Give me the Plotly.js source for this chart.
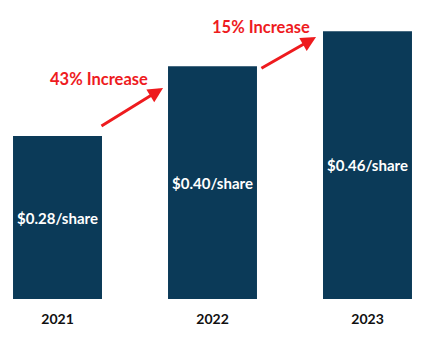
<!DOCTYPE html>
<html>
<head>
<meta charset="utf-8">
<script src="https://cdn.plot.ly/plotly-3.0.1.min.js"></script>
<style>html,body{margin:0;padding:0;background:#fff;}#chart{width:425px;height:339px;}</style>
</head>
<body>
<div id="chart"></div>
<script>
const years = ['2021', '2022', '2023'];
const dividends = [0.28, 0.40, 0.46];
const barLabels = ['$0.28/share', '$0.40/share', '$0.46/share'];
const increaseLabels = ['43% Increase', '15% Increase'];

const FONT = 'Lato, "Open Sans", sans-serif';
const RED = '#ee1b1e';
const NAVY = '#0b3a58';

const trace = {
  type: 'bar',
  x: [0, 1, 2],
  y: dividends,
  text: barLabels,
  textposition: 'inside',
  insidetextanchor: 'middle',
  textangle: 0,
  textfont: {family: FONT, size: 15, color: '#ffffff', weight: 'bold'},
  marker: {color: NAVY, line: {width: 0}},
  width: 0.574,
  hoverinfo: 'skip'
};

// Arrow geometry (data coords) placed between bars
const arrows = [
  {tail: [0.274, 0.2955], head: [0.681, 0.3625], label: [0.268, 0.378]},
  {tail: [1.306, 0.395], head: [1.668, 0.450], label: [1.313, 0.467]}
];

const annotations = [];
arrows.forEach((a, i) => {
  annotations.push({
    x: a.head[0], y: a.head[1], ax: a.tail[0], ay: a.tail[1],
    xref: 'x', yref: 'y', axref: 'x', ayref: 'y',
    showarrow: true, arrowhead: 2, arrowsize: 1, arrowwidth: 3, arrowcolor: RED,
    text: ''
  });
  annotations.push({
    x: a.label[0], y: a.label[1], xref: 'x', yref: 'y',
    text: increaseLabels[i], showarrow: false,
    font: {family: FONT, size: 16.5, color: RED, weight: 'bold'}
  });
});

const layout = {
  width: 425, height: 339,
  margin: {l: 0, r: 0, t: 0, b: 40},
  paper_bgcolor: '#ffffff', plot_bgcolor: '#ffffff',
  showlegend: false,
  xaxis: {
    range: [-0.371, 2.371],
    tickvals: [0, 1, 2], ticktext: years,
    ticks: '', showgrid: false, zeroline: false, showline: false,
    tickfont: {family: FONT, size: 14, color: '#111111', weight: 'bold'},
    ticklabelstandoff: 10,
    fixedrange: true
  },
  yaxis: {
    range: [0, 0.5137],
    visible: false, showgrid: false, zeroline: false,
    fixedrange: true
  },
  annotations: annotations
};

Plotly.newPlot('chart', [trace], layout, {displayModeBar: false, staticPlot: true});
</script>
</body>
</html>
